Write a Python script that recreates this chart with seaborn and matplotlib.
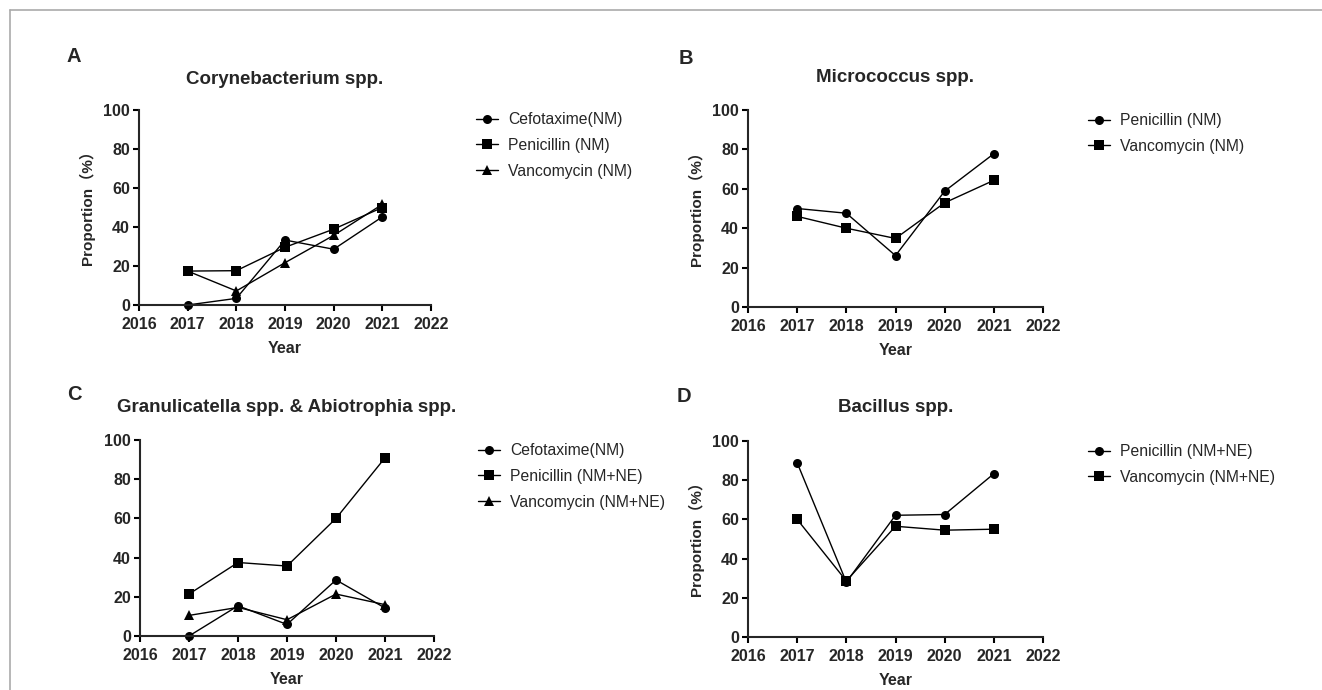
import matplotlib
matplotlib.use("Agg")
import matplotlib.pyplot as plt
from matplotlib.lines import Line2D
import seaborn as sns
import pandas as pd

# ── Data ─────────────────────────────────────────────────────────────────────
YEARS = [2017, 2018, 2019, 2020, 2021]

# A — Corynebacterium spp.
A_CEFOTAXIME = [0.0, 3.4, 33.3, 28.6, 45.2]
A_PENICILLIN = [17.4, 17.6, 29.6, 38.9, 50.0]
A_VANCOMYCIN = [17.4, 7.2, 21.7, 35.7, 51.6]

# B — Micrococcus spp.
B_PENICILLIN = [50.0, 47.6, 26.1, 58.8, 77.8]
B_VANCOMYCIN = [46.0, 40.0, 34.8, 52.9, 64.3]

# C — Granulicatella spp. & Abiotrophia spp.
C_CEFOTAXIME = [0.0, 15.4, 5.9, 28.6, 14.3]
C_PENICILLIN = [21.4, 37.5, 35.7, 60.0, 90.9]
C_VANCOMYCIN = [10.5, 14.6, 8.3, 21.4, 16.0]

# D — Bacillus spp.
D_PENICILLIN = [88.9, 28.0, 62.1, 62.5, 83.3]
D_VANCOMYCIN = [60.0, 28.6, 56.5, 54.5, 55.0]

PANELS = [
    ("A", "Corynebacterium spp.",
     ["Cefotaxime(NM)", "Penicillin (NM)", "Vancomycin (NM)"],
     [A_CEFOTAXIME, A_PENICILLIN, A_VANCOMYCIN], True),
    ("B", "Micrococcus spp.",
     ["Penicillin (NM)", "Vancomycin (NM)"],
     [B_PENICILLIN, B_VANCOMYCIN], True),
    ("C", "Granulicatella spp. & Abiotrophia spp.",
     ["Cefotaxime(NM)", "Penicillin (NM+NE)", "Vancomycin (NM+NE)"],
     [C_CEFOTAXIME, C_PENICILLIN, C_VANCOMYCIN], False),
    ("D", "Bacillus spp.",
     ["Penicillin (NM+NE)", "Vancomycin (NM+NE)"],
     [D_PENICILLIN, D_VANCOMYCIN], True),
]
MARKERS = ["o", "s", "^"]

# ── Layout (pixel boxes: left, top, right, bottom) ───────────────────────────
W, H = 1322, 690
AX_BOX = [(139, 110, 431, 305), (748, 110, 1043, 307),
          (140, 440, 434, 636), (748, 441, 1043, 637)]
LETTER_XY = [(74, 57), (686, 59), (74, 394), (684, 396)]
TITLE_Y = [80, 78, 408, 408]
LEGEND_XY = [(476, 112), (1088, 113), (478, 443), (1088, 444)]

sns.set_theme(style="ticks")
plt.rcParams["font.family"] = ["Liberation Sans", "Noto Sans CJK SC", "DejaVu Sans"]
plt.rcParams["axes.linewidth"] = 1.5

fig = plt.figure(figsize=(W / 100, H / 100), dpi=100)

# thin grey frame (top + left edges only visible)
fig.add_artist(Line2D([10 / W, 1.0], [1 - 10 / H, 1 - 10 / H],
                      transform=fig.transFigure, color="#aaaaaa", lw=1.2))
fig.add_artist(Line2D([10 / W, 10 / W], [0.0, 1 - 10 / H],
                      transform=fig.transFigure, color="#aaaaaa", lw=1.2))


def px(x, y):
    return x / W, 1 - y / H


for i, (letter, title, names, series, ylab) in enumerate(PANELS):
    l, t, r, b = AX_BOX[i]
    ax = fig.add_axes([l / W, 1 - b / H, (r - l) / W, (b - t) / H])

    rows = []
    for name, vals in zip(names, series):
        for yr, v in zip(YEARS, vals):
            rows.append({"Year": yr, "value": v, "drug": name})
    df = pd.DataFrame(rows)

    sns.lineplot(data=df, x="Year", y="value", style="drug", style_order=names,
                 markers=dict(zip(names, MARKERS[:len(names)])), dashes=False,
                 color="black", linewidth=1.0, markersize=6.5, markeredgewidth=0,
                 clip_on=False, ax=ax)

    ax.set_xlim(2016, 2022)
    ax.set_ylim(0, 100)
    ax.set_xticks(range(2016, 2023))
    ax.set_yticks(range(0, 101, 20))
    sns.despine(ax=ax)
    ax.tick_params(axis="both", width=1.5, length=4.5, labelsize=11.5,
                   color="black")
    ax.tick_params(axis="x", pad=4)
    ax.tick_params(axis="y", pad=2)
    for lab in ax.get_xticklabels() + ax.get_yticklabels():
        lab.set_fontweight("bold")

    ax.set_xlabel("Year", fontsize=11.5, fontweight="bold")
    ax.xaxis.set_label_coords(0.5, -36 / (b - t))
    if ylab:
        ax.set_ylabel("Proportion（%）", fontsize=11, fontweight="bold")
        ax.yaxis.set_label_coords(-44 / (r - l), 0.52)
    else:
        ax.set_ylabel("")

    fig.text(*px((l + r) / 2, TITLE_Y[i]), title, ha="center", va="center",
             fontsize=13.5, fontweight="bold")
    fig.text(*px(*LETTER_XY[i]), letter, ha="center", va="center",
             fontsize=14.5, fontweight="bold")

    lx, ly = LEGEND_XY[i]
    sns.move_legend(ax, loc="upper left", bbox_to_anchor=px(lx, ly),
                    bbox_transform=fig.transFigure, frameon=False, title=None,
                    fontsize=11.3, borderpad=0, borderaxespad=0,
                    handlelength=1.4, handletextpad=0.65, labelspacing=0.7)

fig.savefig("out.png", dpi=100)
